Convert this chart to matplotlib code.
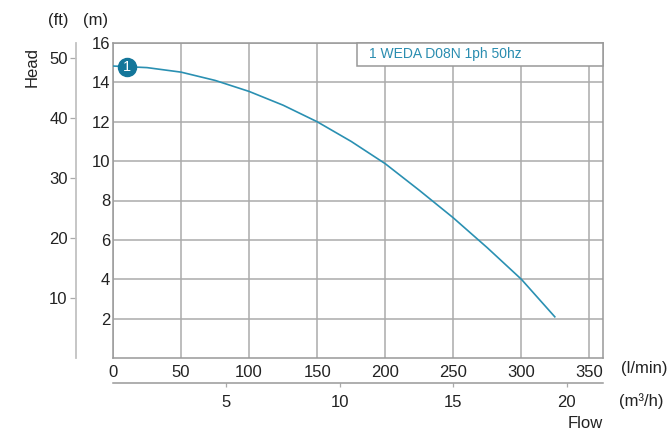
import matplotlib
matplotlib.use("Agg")
import matplotlib.pyplot as plt
from matplotlib.patches import Rectangle

plt.rcParams['font.family'] = ['Liberation Sans', 'DejaVu Sans']

# Data (flow in l/min, head in m)
flow_lpm = [0, 25, 50, 75, 100, 125, 150, 175, 200, 225, 250, 275, 300, 325]
head_m = [14.83, 14.75, 14.52, 14.10, 13.54, 12.84, 12.00, 11.00, 9.87, 8.52, 7.12, 5.60, 4.00, 2.06]
marker_flow = 10
marker_head = 14.8
curve_label = "1 WEDA D08N 1ph 50hz"
x_ticks = [0, 50, 100, 150, 200, 250, 300, 350]
y_ticks_m = [2, 4, 6, 8, 10, 12, 14, 16]
y_ticks_ft = [10, 20, 30, 40, 50]
x2_ticks_m3h = [5, 10, 15, 20]

W, H = 671, 433
fig = plt.figure(figsize=(W / 100, H / 100), dpi=100)
L, R, T, B = 113, 603, 43, 358
ax = fig.add_axes([L / W, 1 - B / H, (R - L) / W, (B - T) / H])

line_col = "#2a90b2"
mark_col = "#13769a"
grid_col = "#ababab"
text_col = "#222222"

ax.plot(flow_lpm, head_m, color=line_col, lw=1.2, zorder=3,
        solid_capstyle='butt', solid_joinstyle='round')
ax.plot([marker_flow], [marker_head], 'o', color=mark_col, markersize=13, zorder=5)
ax.text(marker_flow, marker_head, "1", color="white", fontsize=10.5,
        ha="center", va="center", zorder=6)

ax.set_xlim(0, 360)
ax.set_ylim(0, 16)
ax.set_xticks(x_ticks)
ax.set_yticks(y_ticks_m)
ax.grid(True, color=grid_col, lw=1.1)
ax.set_axisbelow(True)
ax.tick_params(axis='both', length=0, labelsize=12, colors=text_col)
ax.tick_params(axis='x', pad=5)
ax.tick_params(axis='y', pad=2)
for s in ax.spines.values():
    s.set_color("#999999")
    s.set_linewidth(1.1)

# legend box
ax.add_patch(Rectangle((0.498, 0.927), 0.502, 0.073, transform=ax.transAxes,
                       facecolor="white", edgecolor="#999999", lw=1.1, zorder=4,
                       clip_on=False))
ax.text(0.522, 0.9635, curve_label, transform=ax.transAxes, color="#2a8db0",
        fontsize=10, ha="left", va="center", zorder=5)

# ft axis
sec_y = ax.secondary_yaxis((76 - L) / (R - L),
                           functions=(lambda m: m / 0.3048, lambda f: f * 0.3048))
sec_y.set_yticks(y_ticks_ft)
sec_y.tick_params(length=4, width=0.9, color="#aaaaaa", labelsize=12,
                  labelcolor=text_col, pad=2)
for s in sec_y.spines.values():
    s.set_color("#c2c2c2")
    s.set_linewidth(1.3)

# m3/h axis
sec_x = ax.secondary_xaxis(-(382.7 - B) / (B - T),
                           functions=(lambda q: q * 0.06, lambda c: c / 0.06))
sec_x.set_xticks(x2_ticks_m3h)
sec_x.tick_params(length=3, width=0.9, color="#aaaaaa", labelsize=12,
                  labelcolor=text_col, pad=6)
for s in sec_x.spines.values():
    s.set_color("#999999")
    s.set_linewidth(1.1)

def ftext(x, y, s, **kw):
    fig.text(x / W, 1 - y / H, s, fontsize=12, color=text_col, **kw)

ftext(58, 21, "(ft)", ha="center", va="center")
ftext(96, 21, "(m)", ha="center", va="center")
ftext(32, 67, "Head", ha="center", va="center", rotation=90)
ftext(621, 369, "(l/min)", ha="left", va="center")
ftext(619, 401, "(m³/h)", ha="left", va="center")
ftext(603, 423, "Flow", ha="right", va="center")

fig.savefig("out.png", dpi=100)
